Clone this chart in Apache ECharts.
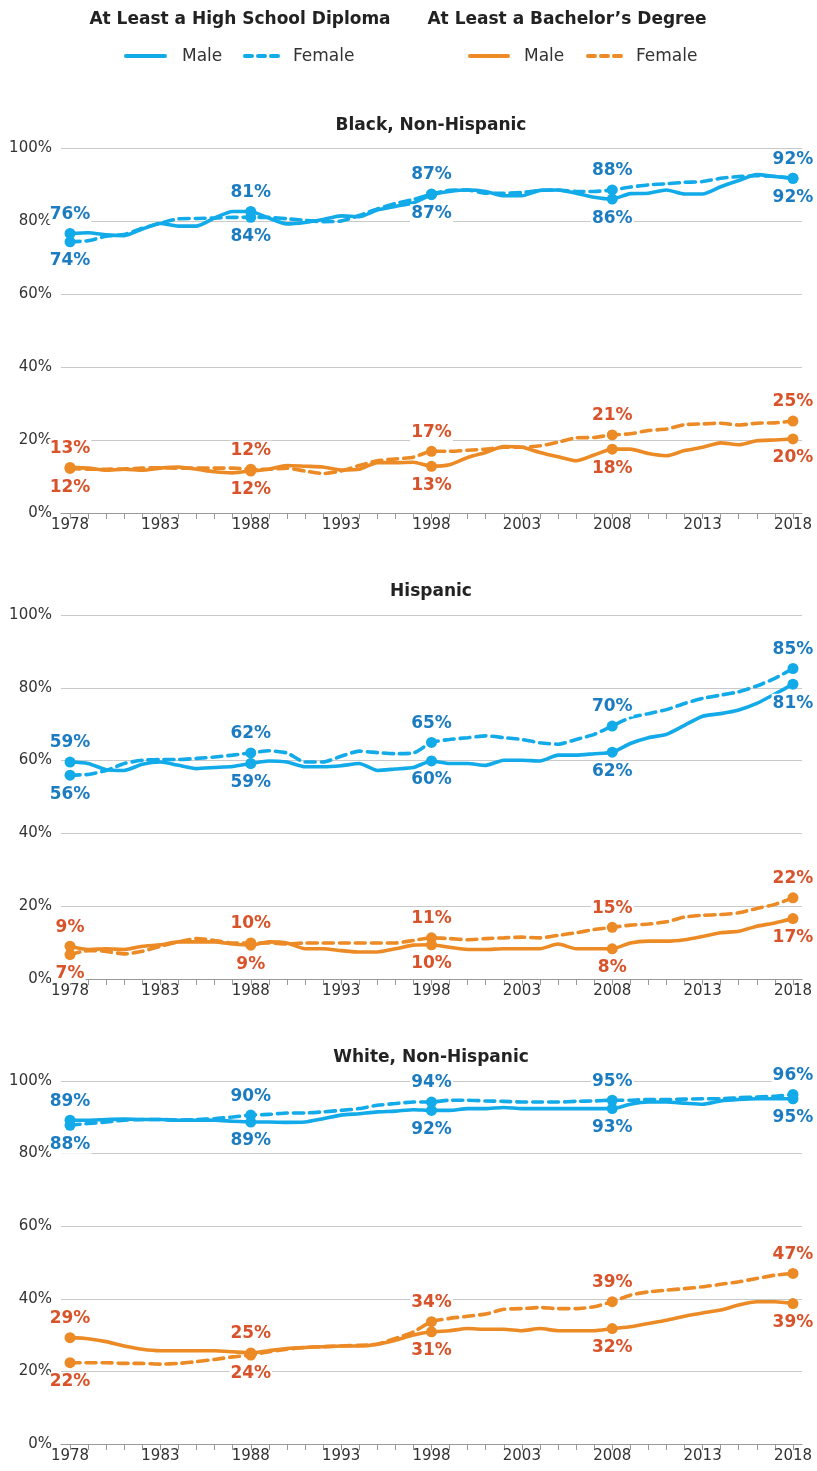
<!DOCTYPE html>
<html>
<head>
<meta charset="utf-8">
<script src="https://cdn.jsdelivr.net/npm/echarts@6/dist/echarts.min.js"></script>
<style>
html,body{margin:0;padding:0;background:#fff;}
#chart{width:817px;height:1471px;}
</style>
</head>
<body>
<div id="chart"></div>
<script>
// ---------- DATA ----------
const years = ['1978','1979','1980','1981','1982','1983','1984','1985','1986','1987','1988','1989','1990','1991','1992','1993','1994','1995','1996','1997','1998','1999','2000','2001','2002','2003','2004','2005','2006','2007','2008','2009','2010','2011','2012','2013','2014','2015','2016','2017','2018'];
const panelTitles = ['Black, Non-Hispanic', 'Hispanic', 'White, Non-Hispanic'];
const yTicks = [0, 20, 40, 60, 80, 100];

// Black, Non-Hispanic
const blackHSMale = [76.6,76.8,76.2,76.0,77.8,79.3,78.6,78.6,80.8,82.6,82.6,80.8,79.2,79.6,80.4,81.4,81.2,83.0,84.0,85.0,87.2,88.1,88.5,88.1,86.9,86.9,88.4,88.5,87.6,86.5,86.0,87.5,87.6,88.5,87.4,87.4,89.4,91.1,92.7,92.2,91.7];
const blackHSFemale = [74.3,74.6,75.8,76.3,78.0,79.4,80.6,80.7,80.8,81.0,81.0,81.0,80.6,80.2,79.8,80.0,81.5,83.3,84.8,85.9,87.4,88.4,88.5,87.6,87.6,87.8,88.4,88.5,88.1,88.1,88.5,89.3,89.9,90.2,90.6,90.8,91.7,92.2,92.4,92.2,91.7];
const blackBAMale = [12.5,12.3,11.7,12.0,11.7,12.3,12.6,12.0,11.3,11.0,11.5,12.0,13.0,12.8,12.6,11.8,12.0,13.8,13.8,13.9,12.8,13.2,15.2,16.6,18.2,18.0,16.6,15.4,14.3,15.9,17.5,17.5,16.3,15.7,17.1,18.0,19.2,18.7,19.8,20.0,20.3];
const blackBAFemale = [12.2,12.0,12.0,12.1,12.3,12.4,12.3,12.3,12.3,12.3,12.0,12.0,12.3,11.5,10.8,11.5,13.0,14.3,14.8,15.3,16.9,16.9,17.2,17.5,18.0,18.0,18.4,19.4,20.6,20.7,21.4,21.7,22.6,23.0,24.2,24.4,24.6,24.1,24.6,24.7,25.2];
const blackHSTop = ['76%','81%','87%','88%','92%'];
const blackHSBottom = ['74%','84%','87%','86%','92%'];
const blackBATop = ['13%','12%','17%','21%','25%'];
const blackBABottom = ['12%','12%','13%','18%','20%'];

// Hispanic
const hispHSMale = [59.6,59.2,57.5,57.3,59.0,59.6,58.7,57.8,58.1,58.4,59.2,59.9,59.6,58.3,58.3,58.6,59.2,57.3,57.7,58.1,59.9,59.2,59.2,58.7,60.1,60.1,59.9,61.5,61.5,61.9,62.3,64.7,66.3,67.2,69.7,72.2,72.9,73.9,75.7,78.3,81.0];
const hispHSFemale = [56.0,56.2,57.3,59.2,60.1,60.3,60.3,60.6,61.0,61.5,62.1,62.7,62.1,59.6,59.6,61.2,62.6,62.2,61.9,62.1,65.0,65.8,66.3,66.8,66.3,65.8,64.9,64.5,65.8,67.2,69.5,71.8,72.9,74.0,75.7,77.1,78.0,78.9,80.5,82.6,85.3];
const hispBAMale = [9.0,8.1,8.3,8.1,9.0,9.4,10.2,10.2,10.2,9.6,9.3,10.2,9.9,8.3,8.3,7.8,7.4,7.4,8.3,9.3,9.4,8.7,8.1,8.1,8.3,8.3,8.3,9.6,8.3,8.3,8.3,9.9,10.4,10.4,10.8,11.7,12.7,13.1,14.5,15.4,16.6];
const hispBAFemale = [6.7,7.8,7.6,6.9,7.6,9.0,10.2,11.1,10.6,9.9,9.9,9.9,9.6,9.9,9.9,9.9,9.9,9.9,9.9,10.6,11.3,11.1,10.8,11.1,11.3,11.5,11.3,12.0,12.7,13.6,14.2,14.8,15.1,15.7,17.0,17.5,17.7,18.2,19.4,20.5,22.3];
const hispHSTop = ['59%','62%','65%','70%','85%'];
const hispHSBottom = ['56%','59%','60%','62%','81%'];
const hispBATop = ['9%','10%','11%','15%','22%'];
const hispBABottom = ['7%','9%','10%','8%','17%'];

// White, Non-Hispanic
const whiteHSMale = [89.2,89.2,89.4,89.5,89.4,89.4,89.2,89.2,89.2,88.9,88.7,88.7,88.6,88.7,89.6,90.6,91.0,91.5,91.7,92.1,91.9,91.9,92.4,92.4,92.7,92.4,92.4,92.4,92.4,92.4,92.4,93.6,94.2,94.2,93.9,93.6,94.5,94.9,95.1,95.1,95.1];
const whiteHSFemale = [87.8,88.3,88.7,89.2,89.4,89.4,89.2,89.4,89.6,90.1,90.6,90.8,91.2,91.2,91.5,91.9,92.4,93.3,93.8,94.2,94.2,94.7,94.7,94.5,94.4,94.2,94.2,94.2,94.4,94.5,94.7,94.7,94.9,94.9,95.0,95.1,95.1,95.4,95.6,95.8,96.3];
const whiteBAMale = [29.3,29.0,28.2,27.0,26.1,25.7,25.7,25.7,25.7,25.4,25.1,25.7,26.3,26.6,26.8,27.0,27.0,27.5,28.6,30.0,30.9,31.2,31.8,31.6,31.6,31.2,31.8,31.2,31.2,31.2,31.8,32.3,33.2,34.1,35.2,36.1,36.9,38.3,39.2,39.2,38.7];
const whiteBAFemale = [22.4,22.4,22.4,22.2,22.2,22.0,22.2,22.7,23.3,24.0,24.5,25.4,26.1,26.6,26.8,27.0,27.2,27.5,29.1,30.9,33.7,34.6,35.2,35.8,37.1,37.3,37.6,37.3,37.3,37.8,39.2,41.0,41.9,42.4,42.8,43.3,44.0,44.7,45.6,46.5,47.0];
const whiteHSTop = ['89%','90%','94%','95%','96%'];
const whiteHSBottom = ['88%','89%','92%','93%','95%'];
const whiteBATop = ['29%','25%','34%','39%','47%'];
const whiteBABottom = ['22%','24%','31%','32%','39%'];

const labeledIdx = [0, 10, 20, 30, 40];

// ---------- STYLE ----------
const FONT = '"DejaVu Sans", Verdana, sans-serif';
const BLUE = '#12aae8';
const BLUE_LBL = '#1c7cc2';
const ORANGE = '#ec8a25';
const ORANGE_LBL = '#d9532a';
const DASH = [10, 6];

const gridsPx = [
  {top: 148, height: 365},
  {top: 615, height: 364},
  {top: 1081, height: 363}
];

function makePair(male, female, topLbl, botLbl, color, lblColor, gi) {
  const mData = male.map(v => ({value: v}));
  const fData = female.map(v => ({value: v}));
  labeledIdx.forEach((idx, j) => {
    const mHigh = male[idx] >= female[idx];
    const hi = mHigh ? mData : fData;
    const lo = mHigh ? fData : mData;
    const lbl = (pos, txt) => ({
      show: true, position: pos, formatter: txt, distance: 4,
      color: lblColor, fontFamily: FONT, fontWeight: 'bold', fontSize: 17,
      backgroundColor: '#fff', padding: [1, 1]
    });
    hi[idx] = {value: hi[idx].value, symbol: 'circle', symbolSize: 11, label: lbl('top', topLbl[j])};
    lo[idx] = {value: lo[idx].value, symbol: 'circle', symbolSize: 11, label: lbl('bottom', botLbl[j])};
  });
  const base = (data, type, z) => ({
    type: 'line', xAxisIndex: gi, yAxisIndex: gi, data: data,
    symbol: 'none', showSymbol: true, showAllSymbol: true, smooth: 0.2,
    lineStyle: {color: color, width: 3.6, type: type, cap: 'round'},
    itemStyle: {color: color},
    emphasis: {disabled: true}, z: z, animation: false, silent: true
  });
  return [base(mData, 'solid', 3), base(fData, DASH, 2)];
}

const grids = [], xAxes = [], yAxes = [], series = [];
const panels = [
  [blackHSMale, blackHSFemale, blackHSTop, blackHSBottom, blackBAMale, blackBAFemale, blackBATop, blackBABottom],
  [hispHSMale, hispHSFemale, hispHSTop, hispHSBottom, hispBAMale, hispBAFemale, hispBATop, hispBABottom],
  [whiteHSMale, whiteHSFemale, whiteHSTop, whiteHSBottom, whiteBAMale, whiteBAFemale, whiteBATop, whiteBABottom]
];
panels.forEach((p, gi) => {
  grids.push({left: 61, right: 15, top: gridsPx[gi].top, height: gridsPx[gi].height});
  xAxes.push({
    type: 'category', gridIndex: gi, data: years, boundaryGap: true,
    axisLine: {show: true, lineStyle: {color: '#999', width: 1.2}},
    axisTick: {show: true, alignWithLabel: true, interval: 0, length: 6, lineStyle: {color: '#999'}},
    axisLabel: {interval: 4, color: '#333', fontFamily: FONT, fontSize: 15, margin: 5},
    splitLine: {show: false}
  });
  yAxes.push({
    type: 'value', gridIndex: gi, min: yTicks[0], max: yTicks[yTicks.length - 1], interval: 20,
    axisLine: {show: false}, axisTick: {show: false},
    axisLabel: {formatter: '{value}%', color: '#333', fontFamily: FONT, fontSize: 15, margin: 9},
    splitLine: {lineStyle: {color: '#c9c9c9', width: 1.2}}
  });
  series.push(...makePair(p[0], p[1], p[2], p[3], BLUE, BLUE_LBL, gi));
  series.push(...makePair(p[4], p[5], p[6], p[7], ORANGE, ORANGE_LBL, gi));
});

const titleYs = [126, 592, 1058];
const graphic = [];
panelTitles.forEach((t, i) => {
  graphic.push({type: 'text', x: 431, y: titleYs[i], style: {text: t, textAlign: 'center', textVerticalAlign: 'middle', font: 'bold 17px ' + FONT, fill: '#222'}});
});
// legend headers
graphic.push({type: 'text', x: 240, y: 20, style: {text: 'At Least a High School Diploma', textAlign: 'center', textVerticalAlign: 'middle', font: 'bold 17px ' + FONT, fill: '#222'}});
graphic.push({type: 'text', x: 567, y: 20, style: {text: 'At Least a Bachelor\u2019s Degree', textAlign: 'center', textVerticalAlign: 'middle', font: 'bold 17px ' + FONT, fill: '#222'}});
// legend entries
const legendItems = [
  {x1: 126, x2: 165, color: BLUE, dash: null, tx: 182, text: 'Male'},
  {x1: 245, x2: 278, color: BLUE, dash: [7, 6], tx: 293, text: 'Female'},
  {x1: 470, x2: 508, color: ORANGE, dash: null, tx: 524, text: 'Male'},
  {x1: 588, x2: 621, color: ORANGE, dash: [7, 6], tx: 636, text: 'Female'}
];
legendItems.forEach(it => {
  graphic.push({type: 'line', shape: {x1: it.x1, y1: 56, x2: it.x2, y2: 56}, style: {stroke: it.color, lineWidth: 4, lineCap: 'round', lineDash: it.dash || null}});
  graphic.push({type: 'text', x: it.tx, y: 57, style: {text: it.text, textAlign: 'left', textVerticalAlign: 'middle', font: '17px ' + FONT, fill: '#333'}});
});

const chart = echarts.init(document.getElementById('chart'), null, {renderer: 'canvas'});
chart.setOption({
  animation: false,
  backgroundColor: '#fff',
  grid: grids, xAxis: xAxes, yAxis: yAxes, series: series, graphic: graphic
});
</script>
</body>
</html>
